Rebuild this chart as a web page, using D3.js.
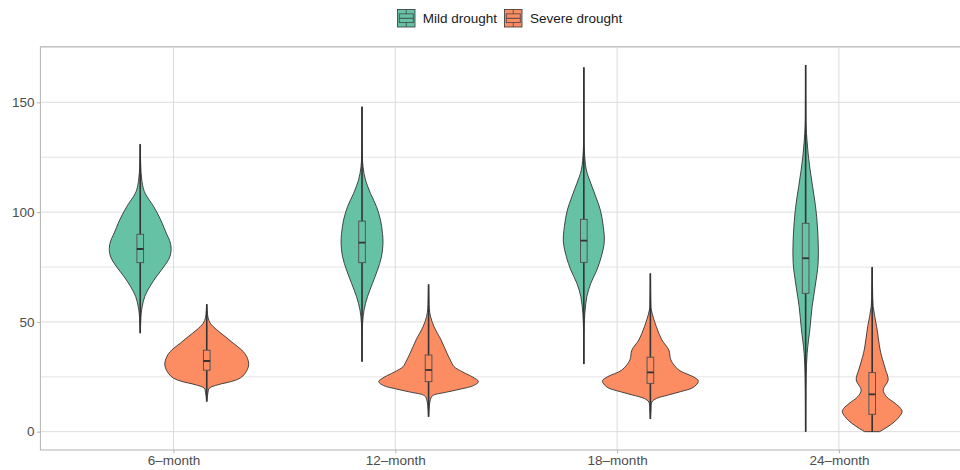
<!DOCTYPE html>
<html lang="en">
<head>
<meta charset="UTF-8" />
<title>Drought violins</title>
<script src="https://cdn.jsdelivr.net/npm/d3@7/dist/d3.min.js"></script>
<style>
    body { margin: 0; background: #fff; font-family: 'Liberation Sans', Arial, Helvetica, sans-serif; }
    svg { display: block; }
    .tick text { fill: #4d4d4d; font-size: 13.5px; font-family: 'Liberation Sans', Arial, sans-serif; }
    .tick line { stroke: #b3b3b3; }
</style>
</head>
<body>
<svg id="chart" width="960" height="470"></svg>
<script>
    // categories, groups, ticks
    const categories = ["6\u2013month", "12\u2013month", "18\u2013month", "24\u2013month"];
    const groups = ["Mild drought", "Severe drought"];
    const groupColors = ["#66C2A5", "#FC8D62"];
    const yTicks = [0, 50, 100, 150];
    const yMinorTicks = [25, 75, 125, 175];

    // density profiles: [value, relative density]
    const mild6 = [[45,0.003],[50,0.01],[54,0.02],[57,0.04],[61.5,0.09],[66,0.19],[70.5,0.32],[75,0.47],[79.5,0.59],[83.5,0.62],[87,0.59],[90,0.53],[96.5,0.41],[102.5,0.27],[108.5,0.1],[112,0.05],[116,0.025],[120,0.012],[125,0.006],[131,0.002]];
    const mild12 = [[32,0.001],[40,0.004],[45,0.006],[49.4,0.012],[55.4,0.04],[61.5,0.11],[67.6,0.21],[73.6,0.31],[79.7,0.39],[85.8,0.42],[90.3,0.41],[96.4,0.37],[102.5,0.29],[108.5,0.17],[114.6,0.07],[120.7,0.02],[130,0.004],[148,0.001]];
    const mild18 = [[30.8,0.001],[40,0.003],[47.9,0.008],[53.9,0.02],[61.5,0.06],[67.6,0.14],[73.6,0.26],[79.7,0.35],[86.5,0.41],[93.4,0.39],[101,0.33],[107,0.24],[113.1,0.14],[119.2,0.05],[128.3,0.01],[140,0.004],[165.9,0.001]];
    const mild24 = [[0,0.002],[12,0.004],[25,0.01],[35.7,0.03],[47.8,0.09],[57,0.13],[66,0.19],[76.7,0.25],[87.3,0.25],[97.9,0.22],[104,0.19],[111.6,0.14],[119.2,0.09],[126.8,0.05],[138.9,0.01],[150,0.004],[167,0.001]];

    const severe6 = [[13.7,0.004],[16,0.012],[18,0.025],[19.8,0.05],[21.4,0.23],[22.9,0.5],[24.4,0.67],[26.6,0.77],[30.4,0.84],[34.2,0.8],[37.2,0.7],[40.3,0.53],[43.3,0.37],[46.4,0.2],[49.4,0.07],[52,0.025],[55,0.01],[58,0.003]];
    const severe12 = [[6.8,0.002],[10,0.01],[14,0.03],[16.4,0.08],[17.9,0.34],[19.4,0.64],[21,0.9],[22.8,1.0],[24.8,0.89],[27.1,0.69],[29.6,0.51],[31.1,0.47],[35.7,0.37],[41.8,0.25],[47.8,0.11],[52.4,0.04],[56,0.015],[60,0.008],[67,0.002]];
    const severe18 = [[5.8,0.002],[10,0.012],[13.5,0.03],[15.1,0.12],[16.7,0.36],[18.2,0.6],[19.8,0.83],[21.3,0.92],[23.2,0.96],[25,0.86],[28.1,0.57],[32.7,0.41],[37.2,0.37],[41.8,0.23],[47.8,0.12],[55.4,0.02],[60,0.008],[72,0.002]];
    const severe24 = [[0,0.15],[1.5,0.26],[3,0.36],[5,0.47],[7,0.55],[9.1,0.6],[10.6,0.57],[12.9,0.46],[15.9,0.29],[19,0.22],[23.5,0.32],[28.1,0.27],[32.7,0.21],[37.2,0.16],[47.8,0.09],[57,0.02],[65,0.008],[75,0.002]];

    const mildDensity = [mild6, mild12, mild18, mild24];
    const severeDensity = [severe6, severe12, severe18, severe24];

    // box stats: [min, q1, median, q3, max]
    const mildStats = [[44.8, 77, 83.2, 89.9, 130.9], [31.9, 77, 86.1, 95.9, 148], [30.8, 77.1, 87, 96.7, 165.9], [0, 63, 79, 94.9, 167]];
    const severeStats = [[13.7, 28, 32.2, 37.1, 58], [6.8, 22.8, 28.1, 34.9, 67.1], [5.8, 22, 27, 33.9, 72.1], [0, 7.9, 17, 26.9, 74.9]];

    const densities = [mildDensity, severeDensity];
    const stats = [mildStats, severeStats];

    const svg = d3.select("#chart");
    const panel = { left: 40.4, top: 46.7, width: 931.6, height: 403.3 };

    const x = d3.scalePoint()
        .domain(categories)
        .range([panel.left, panel.left + panel.width])
        .padding(0.6);
    const step = x.step();
    const dodge = [-0.15 * step, 0.15 * step];

    const y = d3.scaleLinear()
        .domain([-8.35, 175.35])
        .range([panel.top + panel.height, panel.top]);

    const w = d3.scaleLinear().domain([0, 1]).range([0, 0.225 * step]);

    svg.append("defs").append("clipPath").attr("id", "panelClip")
        .append("rect")
        .attr("x", panel.left).attr("y", panel.top)
        .attr("width", panel.width).attr("height", panel.height);

    const plot = svg.append("g").attr("clip-path", "url(#panelClip)");

    // grid
    plot.selectAll(".minor")
        .data(yMinorTicks)
        .enter().append("line")
        .attr("x1", panel.left).attr("x2", panel.left + panel.width)
        .attr("y1", d => y(d)).attr("y2", d => y(d))
        .attr("stroke", "#e2e2e2").attr("stroke-width", 0.9);

    plot.selectAll(".major")
        .data(yTicks)
        .enter().append("line")
        .attr("x1", panel.left).attr("x2", panel.left + panel.width)
        .attr("y1", d => y(d)).attr("y2", d => y(d))
        .attr("stroke", "#dcdcdc").attr("stroke-width", 1);

    plot.selectAll(".vgrid")
        .data(categories)
        .enter().append("line")
        .attr("x1", d => x(d)).attr("x2", d => x(d))
        .attr("y1", panel.top).attr("y2", panel.top + panel.height)
        .attr("stroke", "#dcdcdc").attr("stroke-width", 1);

    // violins + boxes
    groups.forEach((g, gi) => {
        categories.forEach((c, ci) => {
            const cx = x(c) + dodge[gi];
            const prof = densities[gi][ci];
            const area = d3.area()
                .y(d => y(d[0]))
                .x0(d => cx - w(d[1]))
                .x1(d => cx + w(d[1]))
                .curve(d3.curveCatmullRom.alpha(0.5));

            plot.append("path")
                .datum(prof)
                .attr("d", area)
                .attr("fill", groupColors[gi])
                .attr("stroke", "#333")
                .attr("stroke-width", 0.9);

            const s = stats[gi][ci];
            plot.append("line")
                .attr("x1", cx).attr("x2", cx)
                .attr("y1", y(s[0])).attr("y2", y(s[4]))
                .attr("stroke", "#333").attr("stroke-width", 1.6);

            const bw = 0.03 * step;
            plot.append("rect")
                .attr("x", cx - bw / 2).attr("width", bw)
                .attr("y", y(s[3])).attr("height", y(s[1]) - y(s[3]))
                .attr("fill", groupColors[gi])
                .attr("stroke", "#555").attr("stroke-width", 1);

            plot.append("line")
                .attr("x1", cx - bw / 2).attr("x2", cx + bw / 2)
                .attr("y1", y(s[2])).attr("y2", y(s[2]))
                .attr("stroke", "#333").attr("stroke-width", 1.8);
        });
    });

    // panel border
    svg.append("rect")
        .attr("x", panel.left).attr("y", panel.top)
        .attr("width", panel.width).attr("height", panel.height)
        .attr("fill", "none").attr("stroke", "#b3b3b3").attr("stroke-width", 1);

    // axes
    const yAxis = svg.append("g")
        .attr("transform", `translate(${panel.left},0)`)
        .call(d3.axisLeft(y).tickValues(yTicks).tickSize(3.3).tickPadding(2.5));
    yAxis.select(".domain").remove();

    const xAxis = svg.append("g")
        .attr("transform", `translate(0,${panel.top + panel.height})`)
        .call(d3.axisBottom(x).tickSize(3.3).tickPadding(2.5));
    xAxis.select(".domain").remove();

    // legend
    const keySize = 17.5;
    const legendItems = [{ x: 397.5, tx: 422.7 }, { x: 504.5, tx: 530 }];
    const legend = svg.append("g").attr("transform", "translate(0,9.5)");
    groups.forEach((g, gi) => {
        const k = legend.append("g").attr("transform", `translate(${legendItems[gi].x},0)`);
        k.append("rect")
            .attr("width", keySize).attr("height", keySize)
            .attr("fill", groupColors[gi])
            .attr("stroke", "#333").attr("stroke-width", 0.8);
        const bx0 = keySize * 0.1, bx1 = keySize * 0.9, mid = keySize / 2;
        k.append("rect")
            .attr("x", bx0).attr("width", bx1 - bx0)
            .attr("y", keySize * 0.25).attr("height", keySize * 0.5)
            .attr("fill", "none").attr("stroke", "#444").attr("stroke-width", 0.8);
        k.append("line")
            .attr("x1", bx0).attr("x2", bx1).attr("y1", mid).attr("y2", mid)
            .attr("stroke", "#444").attr("stroke-width", 1);
        k.append("line")
            .attr("x1", mid).attr("x2", mid).attr("y1", 0).attr("y2", keySize * 0.25)
            .attr("stroke", "#444").attr("stroke-width", 0.8);
        k.append("line")
            .attr("x1", mid).attr("x2", mid).attr("y1", keySize * 0.75).attr("y2", keySize)
            .attr("stroke", "#444").attr("stroke-width", 0.8);
        legend.append("text")
            .attr("x", legendItems[gi].tx).attr("y", keySize / 2)
            .attr("dy", "0.35em")
            .attr("fill", "#1a1a1a")
            .style("font-size", "13.5px")
            .text(g);
    });
</script>
</body>
</html>
